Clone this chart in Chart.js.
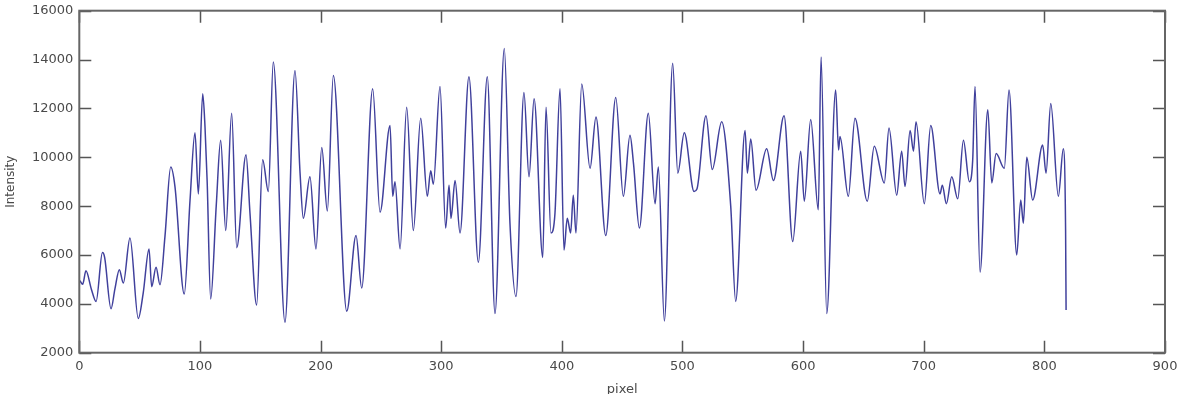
<!DOCTYPE html>
<html>
<head>
<meta charset="utf-8">
<script src="https://cdn.jsdelivr.net/npm/chart.js@4/dist/chart.umd.min.js"></script>
<style>
  html, body { margin: 0; padding: 0; background: #fff; }
  #wrap { width: 1179px; height: 394px; }
</style>
</head>
<body>
<div id="wrap"><canvas id="chart-intensity"></canvas></div>
<script>
// Intensity profile, values (turning points)
const pixelPos = [
  0.5, 2.8, 5.5, 10, 13.9, 19.2, 21, 26.3, 29.5, 33.2, 36.5, 42, 48.9, 53, 57.8, 60, 63.6, 66.9,
  71, 75.8, 79.3, 87, 91.8, 95.9, 98.7, 102.3, 104.2, 106, 108.9, 113.5, 117.2, 121.4, 126.3,
  130.5, 138.2, 141.5, 147, 152, 156.7, 160.8, 170.5, 178.8, 183, 185.7, 191.2, 196.2, 201,
  205.6, 210.6, 221.7, 229.4, 234.1, 243.2, 249.3, 257.6, 259.8, 261.7, 265.9, 271.4, 276.9,
  283, 288.5, 291.3, 293.5, 299, 303.7, 306.5, 308.1, 311.5, 315.6, 323, 330.8, 338.2, 344.6,
  352.3, 357, 362, 368.6, 372.8, 377, 384.2, 386.9, 391, 394.3, 398.5, 401.8, 404.5, 407.3,
  409.5, 411.7, 416.5, 423.4, 428.3, 436.4, 444.7, 451, 456.5, 459.4, 464.3, 471.7, 477.3,
  480, 485, 491.9, 496.1, 501.5, 509.6, 512, 519.5, 524.7, 532.5, 540, 544.1, 551.9, 553.8,
  556.6, 561, 569.8, 575.4, 584.2, 591.4, 598, 601, 606.3, 612.6, 614.9, 619.6, 627, 629.4,
  630.6, 637.5, 643, 653.2, 659, 667.3, 671.2, 677.6, 681.7, 684.5, 688.7, 691.5, 693.6,
  700.5, 705.8, 713.5, 715.4, 718.8, 723.2, 728.2, 732.9, 737.8, 740.6, 742.5, 746.7, 753.1,
  756.4, 760, 766.8, 770.7, 777.1, 780.4, 782.6, 785.4, 790.3, 798.6, 801.4, 805.3, 811.6,
  815.7, 817.6, 818
];
const intensity = [
  4950, 4800, 5350, 4600, 4100, 6100, 5900, 3800, 4600, 5400, 4850, 6700, 3400, 4450, 6250, 4700, 5500, 4780,
  6750, 9600, 8800, 4400, 8250, 11000, 8500, 12600, 11250, 9000, 4200, 8000, 10700, 7000, 11800,
  6300, 10100, 7700, 3950, 9900, 8600, 13900, 3250, 13550, 9350, 7500, 9200, 6250, 10400,
  7800, 13350, 3700, 6800, 4650, 12800, 7750, 11300, 8400, 9000, 6250, 12050, 7000,
  11600, 8400, 9450, 8900, 12900, 7100, 8850, 7500, 9050, 6900, 13300, 5700, 13300, 3600,
  14450, 7300, 4300, 12650, 9200, 12400, 5900, 12050, 6900, 7700, 12800, 6200, 7500, 6900,
  8450, 6900, 13000, 9550, 11650, 6800, 12450, 8400, 10900, 9750, 7100, 11800, 8100,
  9600, 3300, 13850, 9350, 11000, 8600, 8700, 11700, 9500, 11450, 8000, 4100, 11100, 9350,
  10750, 8650, 10350, 9050, 11700, 6550, 10250, 8200, 11550, 7850, 14100, 3600, 12750, 10300,
  10850, 8400, 11600, 8200, 10450, 8950, 11200, 8450, 10250, 8800, 11100, 10250, 11450,
  8100, 11300, 8500, 8850, 8100, 9200, 8300, 10700, 9000, 9900, 12900, 5300, 11950,
  8950, 10150, 9550, 12750, 6000, 8250, 7300, 10000, 8250, 10500, 9350, 12200, 8400,
  10350, 7000, 3750
];
const xTicks = [0, 100, 200, 300, 400, 500, 600, 700, 800, 900];
const yTicks = [2000, 4000, 6000, 8000, 10000, 12000, 14000, 16000];

const tickFont = { family: 'DejaVu Sans', size: 13 };
const tickLen = 12;

// MATLAB-like box with inward ticks on all four sides
const framePlugin = {
  id: 'frame',
  afterDraw(chart) {
    const { ctx, chartArea: a } = chart;
    const x = chart.scales.x, y = chart.scales.y;
    ctx.save();
    ctx.strokeStyle = '#555';
    ctx.lineWidth = 1.5;
    for (const v of xTicks) {
      const px = Math.round(x.getPixelForValue(v)) + 0.5;
      ctx.beginPath();
      ctx.moveTo(px, a.bottom); ctx.lineTo(px, a.bottom - tickLen);
      ctx.moveTo(px, a.top); ctx.lineTo(px, a.top + tickLen);
      ctx.stroke();
    }
    for (const v of yTicks) {
      const py = Math.round(y.getPixelForValue(v)) + 0.5;
      ctx.beginPath();
      ctx.moveTo(a.left, py); ctx.lineTo(a.left + tickLen, py);
      ctx.moveTo(a.right, py); ctx.lineTo(a.right - tickLen, py);
      ctx.stroke();
    }
    ctx.lineWidth = 2;
    ctx.strokeStyle = '#666';
    ctx.strokeRect(a.left, a.top, a.right - a.left, a.bottom - a.top);
    ctx.restore();
  }
};

const dataLine = {
  datasets: [{
    data: pixelPos.map((p, i) => ({ x: p, y: intensity[i] })),
    borderColor: '#40409c',
    borderWidth: 1.5,
    pointRadius: 0,
    cubicInterpolationMode: 'monotone',
    fill: false
  }]
};

const configLine = {
  type: 'line',
  data: dataLine,
  plugins: [framePlugin],
  options: {
    responsive: true,
    maintainAspectRatio: false,
    animation: false,
    layout: { padding: { top: 10.7, right: 14, left: 0, bottom: 0 } },
    scales: {
      x: {
        type: 'linear',
        min: 0,
        max: 900,
        afterBuildTicks: s => { s.ticks = xTicks.map(v => ({ value: v })); },
        afterFit: s => { s.height = 41.3; s.paddingLeft = 0; s.paddingRight = 0; },
        grid: { display: false, drawTicks: false },
        border: { display: false },
        ticks: { color: '#4a4a4a', font: tickFont, padding: 6, maxRotation: 0 },
        title: {
          display: true,
          text: 'pixel',
          color: '#4a4a4a',
          font: { family: 'DejaVu Sans', size: 13 },
          padding: { top: 0, bottom: -3 }
        }
      },
      y: {
        min: 2000,
        max: 16000,
        afterBuildTicks: s => { s.ticks = yTicks.map(v => ({ value: v })); },
        afterFit: s => { s.width = 79.3; s.paddingTop = 0; s.paddingBottom = 0; },
        grid: { display: false, drawTicks: false },
        border: { display: false },
        ticks: { color: '#4a4a4a', font: tickFont, padding: 6, callback: v => String(v) },
        title: {
          display: true,
          text: 'Intensity',
          color: '#4a4a4a',
          font: { family: 'DejaVu Sans', size: 12 },
          padding: { top: 4, bottom: 0 }
        }
      }
    },
    plugins: {
      legend: { display: false },
      tooltip: { enabled: false }
    }
  }
};

const chartLine = new Chart(document.getElementById('chart-intensity'), configLine);
</script>
</body>
</html>
